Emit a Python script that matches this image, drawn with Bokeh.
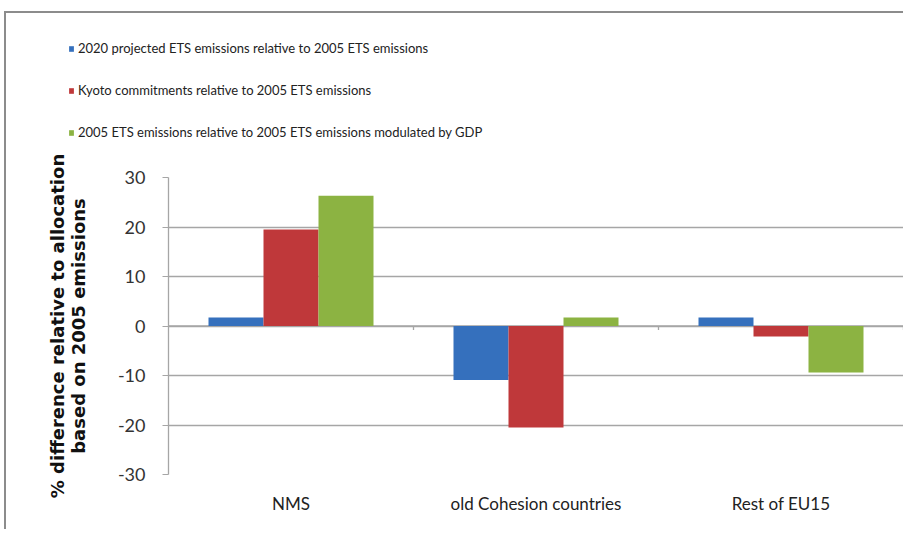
from bokeh.plotting import figure
from bokeh.layouts import column
from bokeh.models import FactorRange, Legend, LegendItem, FixedTicker, ColumnDataSource
from bokeh.transform import dodge
from bokeh.embed import file_html
from bokeh.resources import INLINE

categories = ["NMS", "old Cohesion countries", "Rest of EU15"]
series_names = [
    "2020 projected ETS emissions relative to 2005 ETS emissions",
    "Kyoto commitments relative to 2005 ETS emissions",
    "2005 ETS emissions relative to 2005 ETS emissions modulated by GDP",
]
projected_2020 = [1.7, -10.9, 1.7]
kyoto = [19.5, -20.5, -2.1]
gdp_modulated = [26.3, 1.7, -9.4]
y_ticks = [-30, -20, -10, 0, 10, 20, 30]
y_tick_labels = ["-30", "-20", "-10", "0", "10", "20", "30"]

colors = ["#3570BD", "#BF383A", "#8CB342"]

src = ColumnDataSource(dict(cat=categories, s0=projected_2020, s1=kyoto, s2=gdp_modulated))

W = 897

# ---- legend strip ----
pl = figure(width=W, height=130, x_range=(0, 1), y_range=(0, 1),
            output_backend="svg", toolbar_location=None,
            x_axis_location=None, y_axis_location=None,
            min_border_left=0, min_border_right=0, min_border_top=0, min_border_bottom=0)
pl.frame_align = False
pl.grid.visible = False
pl.outline_line_color = None
leg_renderers = []
for i, col in enumerate(colors):
    # legend proxies kept outside the visible range of this strip
    r = pl.vbar(x=[5], top=[5], bottom=[4], width=0.1, fill_color=col, line_color=None)
    leg_renderers.append(r)
legend = Legend(
    items=[LegendItem(label=n, renderers=[r]) for n, r in zip(series_names, leg_renderers)],
    location=(62, 1),
    orientation="vertical",
    glyph_width=6, glyph_height=7,
    label_height=20, spacing=22, padding=0, margin=0,
    label_standoff=4,
    label_text_font="Lato",
    label_text_font_size="13px",
    label_text_color="#222222",
    border_line_color=None,
    background_fill_alpha=0,
)
pl.add_layout(legend, "center")

# ---- main chart ----
p = figure(
    x_range=FactorRange(*categories, range_padding=0),
    y_range=(-30, 30),
    width=W, height=386,
    output_backend="svg", toolbar_location=None,
    min_border_left=162, min_border_right=0, min_border_top=34, min_border_bottom=55,
)
p.frame_align = False

bw = 0.2245
offsets = [-bw, 0.0, bw]
for i, (off, col) in enumerate(zip(offsets, colors)):
    p.vbar(x=dodge("cat", off, range=p.x_range), top=f"s{i}", bottom=0, width=bw,
           source=src, fill_color=col, line_color=None)

p.outline_line_color = None
p.xgrid.grid_line_color = None
p.ygrid.grid_line_color = "#A6A6A6"
p.ygrid.grid_line_width = 1.3
p.ygrid.level = "underlay"

p.yaxis.ticker = FixedTicker(ticks=y_ticks)
p.yaxis.major_label_overrides = {t: s for t, s in zip(y_ticks, y_tick_labels)}
p.yaxis.axis_line_color = "#A6A6A6"
p.yaxis.axis_line_width = 1.3
p.yaxis.major_tick_line_color = "#A6A6A6"
p.yaxis.major_tick_in = 0
p.yaxis.major_tick_out = 6
p.yaxis.minor_tick_line_color = None
p.yaxis.major_label_standoff = 17
p.yaxis.major_label_text_font = "Lato"
p.yaxis.major_label_text_font_size = "18px"
p.yaxis.major_label_text_color = "#333333"
p.yaxis.axis_label = "% difference relative to allocation\nbased on 2005 emissions"
p.yaxis.axis_label_text_font = "DejaVu Sans"
p.yaxis.axis_label_text_font_style = "bold"
p.yaxis.axis_label_text_font_size = "18px"
p.yaxis.axis_label_text_line_height = 1.0
p.yaxis.axis_label_text_color = "#111111"
p.yaxis.axis_label_standoff = 26

p.xaxis.axis_line_color = None
p.xaxis.major_tick_line_color = None
p.xaxis.minor_tick_line_color = None
p.xaxis.major_label_standoff = 12
p.xaxis.major_label_text_font = "Lato"
p.xaxis.major_label_text_font_size = "17px"
p.xaxis.major_label_text_color = "#222222"

p.segment(x0=[0], x1=[3], y0=[0], y1=[0], line_color="#A6A6A6", line_width=1.3, level="underlay")
p.segment(x0=[1, 2, 3], x1=[1, 2, 3], y0=[0, 0, 0], y1=[-0.8, -0.8, -0.8],
          line_color="#A6A6A6", line_width=1.3)

layout = column(pl, p, spacing=0)
layout.styles = {"border-left": "2px solid #8c8c8c", "border-top": "2px solid #8c8c8c",
                 "margin-left": "4px", "margin-top": "11px"}

open("out.html", "w").write(file_html(layout, INLINE))
